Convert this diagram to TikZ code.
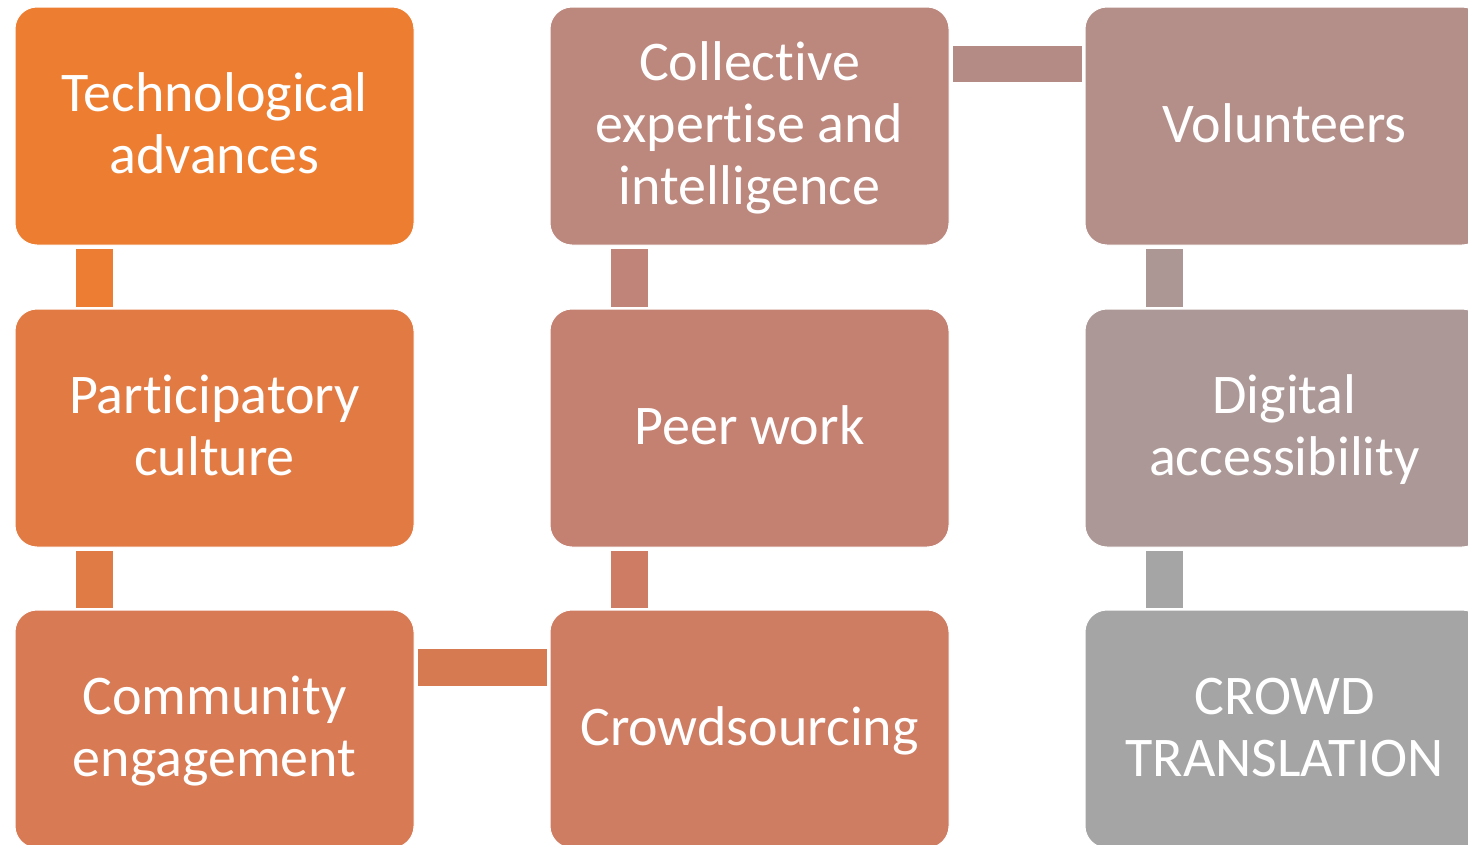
\documentclass[tikz,border=0pt]{standalone}
\usepackage{fontspec}
\setmainfont{Carlito}[Ligatures={NoCommon,NoRequired,NoContextual}]
\usetikzlibrary{calc}

% fill colours of the nine steps, orange fading to grey
\definecolor{s1}{HTML}{ED7D31}
\definecolor{s2}{HTML}{E27B43}
\definecolor{s3}{HTML}{D87A54}
\definecolor{s4}{HTML}{CE7C62}
\definecolor{s5}{HTML}{C48071}
\definecolor{s6}{HTML}{BC877D}
\definecolor{s7}{HTML}{B48F89}
\definecolor{s8}{HTML}{AC9897}
\definecolor{s9}{HTML}{A5A5A5}
% fill colours of the links between steps
\definecolor{k1}{HTML}{EC7D33}
\definecolor{k2}{HTML}{E07B46}
\definecolor{k3}{HTML}{D67A52}
\definecolor{k4}{HTML}{CF7C65}
\definecolor{k5}{HTML}{C08479}
\definecolor{k6}{HTML}{B58B86}
\definecolor{k7}{HTML}{AD9795}
\definecolor{k8}{HTML}{A5A5A5}

% every caption line gets the same height and depth, so blocks centre evenly
\newcommand\lnstrut{\rule[-14.5pt]{0pt}{62pt}}

\tikzset{
  stepbox/.style={rectangle, rounded corners=22pt, draw=white, line width=1pt,
    minimum width=399pt, minimum height=238pt, inner sep=0pt},
  steptext/.style={inner sep=0pt, text=white, align=center,
    font=\fontsize{56pt}{62pt}\selectfont}
}

\begin{document}
\begin{tikzpicture}[x=1pt,y=-1pt]
\useasboundingbox (0,0) rectangle (1468,844);
\clip (0,0) rectangle (1468,844);

% boxes: first column down, second column up, third column down
\node[stepbox, fill=s1] (tech)  at (214.5,126) {};
\node[stepbox, fill=s2] (part)  at (214.5,428) {};
\node[stepbox, fill=s3] (comm)  at (214.5,729) {};
\node[stepbox, fill=s4] (crowd) at (749.5,729) {};
\node[stepbox, fill=s5] (peer)  at (749.5,428) {};
\node[stepbox, fill=s6] (coll)  at (749.5,126) {};
\node[stepbox, fill=s7] (vol)   at (1284.5,126) {};
\node[stepbox, fill=s8] (digi)  at (1284.5,428) {};
\node[stepbox, fill=s9] (ct)    at (1284.5,729) {};

% box captions
\node[steptext] (tech-t)  at (tech.center)  {\lnstrut Technological\\\lnstrut advances};
\node[steptext] (part-t)  at (part.center)  {\lnstrut Participatory\\\lnstrut culture};
\node[steptext] (comm-t)  at (comm.center)  {\lnstrut Community\\\lnstrut engagement};
\node[steptext] (crowd-t) at (crowd.center) {\lnstrut Crowdsourcing};
\node[steptext] (peer-t)  at (peer.center)  {\lnstrut Peer work};
\node[steptext] (coll-t)  at (coll.center)  {\lnstrut Collective\\\lnstrut expertise and\\\lnstrut intelligence};
\node[steptext] (vol-t)   at (vol.center)   {\lnstrut Volunteers};
\node[steptext] (digi-t)  at (digi.center)  {\lnstrut Digital\\\lnstrut accessibility};
\node[steptext] (ct-t)    at (ct.center)    {\lnstrut CROWD\\\lnstrut TRANSLATION};

% vertical links, set near the left side of each box
\fill[k1] ($(tech.south west)+(61,3)$) rectangle ($(part.north west)+(98,-2)$);
\fill[k2] ($(part.south west)+(61,3)$) rectangle ($(comm.north west)+(98,-2)$);
\fill[k4] ($(crowd.north west)+(61,-2)$) rectangle ($(peer.south west)+(98,3)$);
\fill[k5] ($(peer.north west)+(61,-2)$) rectangle ($(coll.south west)+(98,3)$);
\fill[k7] ($(vol.south west)+(61,3)$) rectangle ($(digi.north west)+(98,-2)$);
\fill[k8] ($(digi.south west)+(61,3)$) rectangle ($(ct.north west)+(98,-2)$);

% horizontal links between columns
\fill[k3] ($(comm.north east)+(3,39)$) rectangle ($(crowd.north west)+(-3,76)$);
\fill[k6] ($(coll.north east)+(3,39)$) rectangle ($(vol.north west)+(-3,75)$);
\end{tikzpicture}
\end{document}
